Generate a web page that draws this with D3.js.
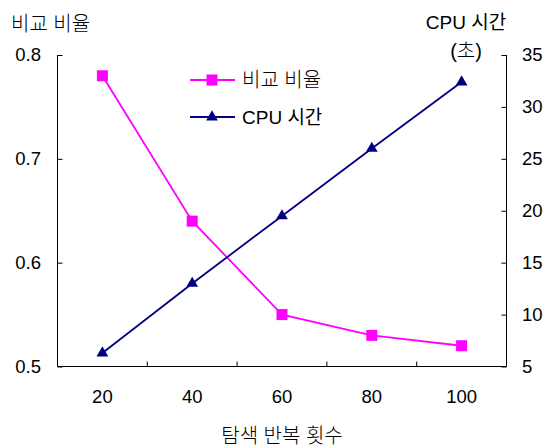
<!DOCTYPE html>
<html><head><meta charset="utf-8">
<script src="https://cdn.jsdelivr.net/npm/d3@7"></script>
<style>
body{margin:0;background:#fff;}
text{font-family:"Liberation Sans","Noto Sans CJK KR",sans-serif;fill:#000;}
.kr{font-weight:300;}
</style></head><body>
<svg id="chart" width="547" height="448"></svg>
<script>
const categories = [20, 40, 60, 80, 100];
const ratioValues = [0.78, 0.64, 0.55, 0.53, 0.52];
const cpuValues = [6.3, 13.0, 19.5, 26.0, 32.4];
const leftTicks = [0.5, 0.6, 0.7, 0.8];
const rightTicks = [5, 10, 15, 20, 25, 30, 35];
const seriesNames = ["비교 비율", "CPU 시간"];

const svg = d3.select("#chart");
const L = 57.5, R = 506.5, T = 55, B = 366.5;

const x = d3.scaleBand().domain(categories).range([L, R]).padding(0);
const yL = d3.scaleLinear().domain([0.5, 0.8]).range([B, T]);
const yR = d3.scaleLinear().domain([5, 35]).range([B, T]);

const axisColor = "#000";
// left axis
const gL = svg.append("g").attr("transform", `translate(${L},0)`)
  .call(d3.axisRight(yL).tickValues(leftTicks).tickSize(5).tickFormat(d3.format(".1f")));
gL.select(".domain").remove();
gL.selectAll("text").remove();
gL.append("line").attr("y1", T).attr("y2", B).attr("stroke", axisColor);
svg.append("g").selectAll("text").data(leftTicks).join("text")
  .attr("x", 41).attr("y", d => yL(d)).attr("dy", "0.35em")
  .attr("text-anchor", "end").attr("font-size", 18.5).text(d => d3.format(".1f")(d));

// right axis
const gR = svg.append("g").attr("transform", `translate(${R},0)`)
  .call(d3.axisLeft(yR).tickValues(rightTicks).tickSize(5));
gR.select(".domain").remove();
gR.selectAll("text").remove();
gR.append("line").attr("y1", T).attr("y2", B).attr("stroke", axisColor);
svg.append("g").selectAll("text").data(rightTicks).join("text")
  .attr("x", 522).attr("y", d => yR(d)).attr("dy", "0.35em")
  .attr("text-anchor", "start").attr("font-size", 18.5).text(d => d);

// bottom axis
const bounds = categories.slice(1).map(c => x(c));
const gB = svg.append("g");
gB.append("line").attr("x1", L).attr("x2", R).attr("y1", B).attr("y2", B).attr("stroke", axisColor);
gB.selectAll("line.tk").data(bounds).join("line").attr("class", "tk")
  .attr("x1", d => d).attr("x2", d => d).attr("y1", B).attr("y2", B - 5).attr("stroke", axisColor);
gB.selectAll("text").data(categories).join("text")
  .attr("x", d => x(d) + x.bandwidth() / 2).attr("y", 403)
  .attr("text-anchor", "middle").attr("font-size", 18.5).text(d => d);

// titles
svg.append("text").attr("class", "kr").attr("x", 11).attr("y", 31).attr("font-size", 20).text("비교 비율");
svg.append("text").attr("x", 466).attr("y", 29).attr("text-anchor", "middle").attr("font-size", 19).text("CPU 시간");
svg.append("text").attr("class", "kr").attr("x", 466).attr("y", 58).attr("text-anchor", "middle").attr("font-size", 20).text("(초)");
svg.append("text").attr("class", "kr").attr("x", 282).attr("y", 443).attr("text-anchor", "middle").attr("font-size", 20).text("탐색 반복 횟수");

const cx = d => x(d) + x.bandwidth() / 2;
const magenta = "#ff00ff", navy = "#000080";
const tri = d3.symbol().type(d3.symbolTriangle).size(60);

// ratio series
const lineL = d3.line().x((d, i) => cx(categories[i])).y(d => yL(d));
svg.append("path").datum(ratioValues).attr("d", lineL).attr("fill", "none")
  .attr("stroke", magenta).attr("stroke-width", 1.8);
svg.append("g").selectAll("rect").data(ratioValues).join("rect")
  .attr("x", (d, i) => cx(categories[i]) - 5.5).attr("y", d => yL(d) - 5.5)
  .attr("width", 11).attr("height", 11).attr("fill", magenta);

// cpu series
const lineR = d3.line().x((d, i) => cx(categories[i])).y(d => yR(d));
svg.append("path").datum(cpuValues).attr("d", lineR).attr("fill", "none")
  .attr("stroke", navy).attr("stroke-width", 1.8);
svg.append("g").selectAll("path").data(cpuValues).join("path")
  .attr("transform", (d, i) => `translate(${cx(categories[i])},${yR(d)})`)
  .attr("d", tri).attr("fill", navy);

// legend
const lg = svg.append("g");
lg.append("line").attr("x1", 190).attr("x2", 235).attr("y1", 80).attr("y2", 80).attr("stroke", magenta).attr("stroke-width", 1.8);
lg.append("rect").attr("x", 212 - 5.5).attr("y", 80 - 5.5).attr("width", 11).attr("height", 11).attr("fill", magenta);
lg.append("text").attr("class", "kr").attr("x", 242).attr("y", 80).attr("dy", "0.35em").attr("font-size", 20).text(seriesNames[0]);
lg.append("line").attr("x1", 190).attr("x2", 235).attr("y1", 117).attr("y2", 117).attr("stroke", navy).attr("stroke-width", 1.8);
lg.append("path").attr("transform", "translate(212,117)").attr("d", tri).attr("fill", navy);
lg.append("text").attr("x", 242).attr("y", 117).attr("dy", "0.35em").attr("font-size", 19).text(seriesNames[1]);
</script>
</body></html>
